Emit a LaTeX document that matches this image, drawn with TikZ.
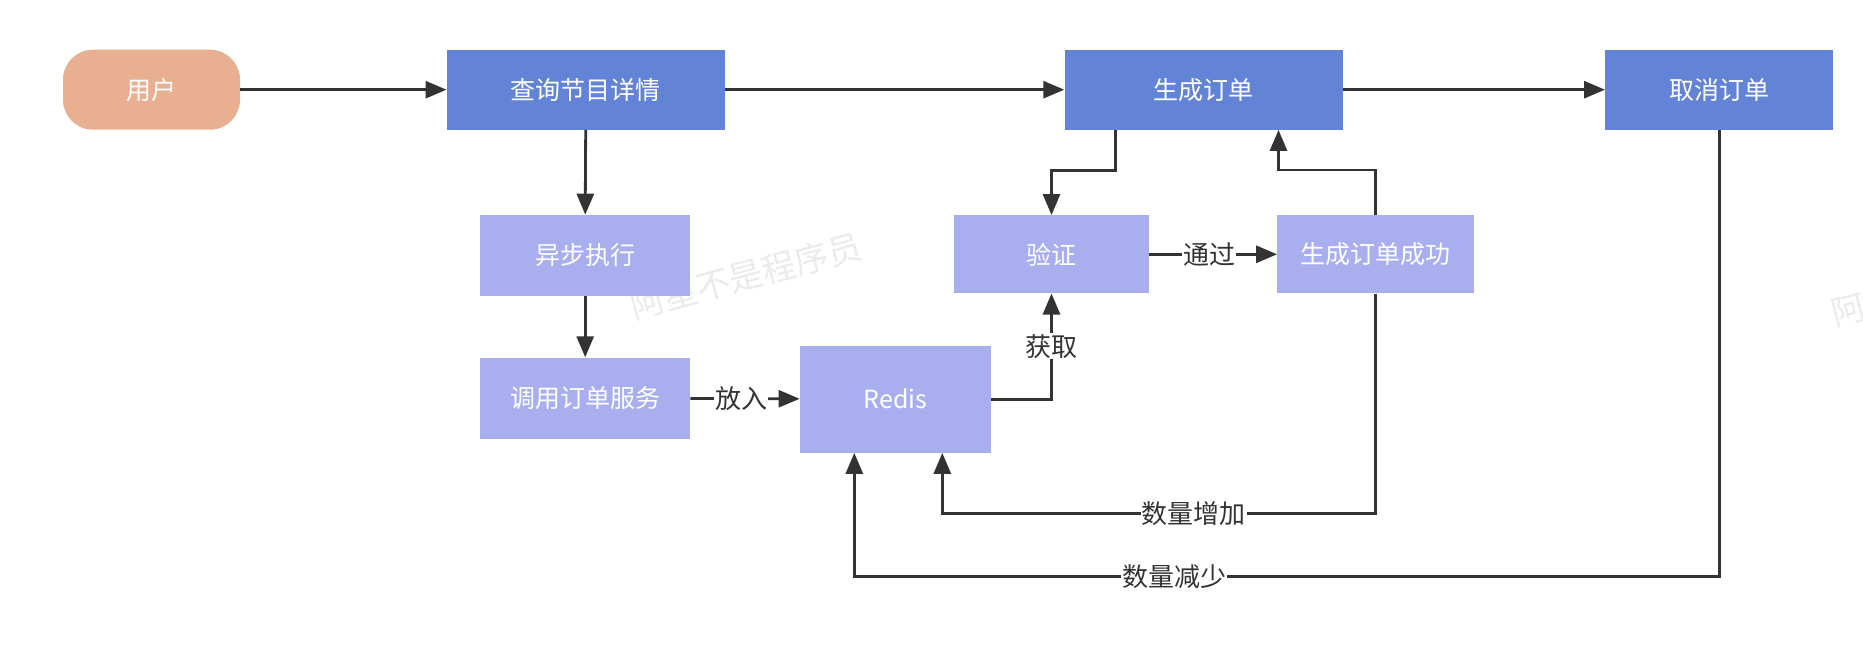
\documentclass[tikz,border=0pt]{standalone}
\usepackage{fontspec}
\setmainfont{Noto Sans CJK SC}
\usetikzlibrary{arrows.meta}
\definecolor{darkblue}{HTML}{6384D6}
\definecolor{lightblue}{HTML}{A9AEEE}
\definecolor{usercol}{HTML}{E9AF91}
\definecolor{linecol}{HTML}{333333}
\definecolor{wmark}{HTML}{EBEBEB}
\tikzset{
  base/.style={text=white, font=\fontsize{25}{30}\selectfont, inner sep=0pt, draw=none},
  dbox/.style={base, fill=darkblue},
  lbox/.style={base, fill=lightblue},
  arr/.style={draw=linecol, line width=2.8pt, -{Triangle[length=21pt,width=17pt]}},
  lbl/.style={fill=white, text=linecol, font=\fontsize{26}{30}\selectfont, inner sep=1pt},
  wm/.style={text=wmark, font=\fontsize{34}{38}\selectfont, rotate=15, inner sep=0pt}
}
\begin{document}
\begin{tikzpicture}[x=1pt,y=-1pt]
\clip (0,0) rectangle (1863,650);
\fill[white] (0,0) rectangle (1863,650);
% watermarks
\node[wm] (wm1) at (746,276) {阿星不是程序员};
\node[wm, anchor=west] (wm2) at (1832,314) {阿星不是程序员};
% nodes
\node[base, fill=usercol, rounded corners=30pt, minimum width=177pt, minimum height=80pt] (u) at (151.5,89.7) {用户};
\node[dbox, minimum width=278pt, minimum height=80pt] (q) at (585.7,89.7) {查询节目详情};
\node[dbox, minimum width=278pt, minimum height=80pt] (g) at (1203.5,89.7) {生成订单};
\node[dbox, minimum width=228pt, minimum height=80pt] (c) at (1719.2,89.7) {取消订单};
\node[lbox, minimum width=210pt, minimum height=81pt] (a) at (585.2,255.4) {异步执行};
\node[lbox, minimum width=210pt, minimum height=81pt] (o) at (585.2,398) {调用订单服务};
\node[lbox, minimum width=191pt, minimum height=107pt] (r) at (895.3,399.2) {Redis};
\node[lbox, minimum width=195pt, minimum height=78pt] (v) at (1051.5,254.3) {验证};
\node[lbox, minimum width=197pt, minimum height=78pt] (s) at (1375.8,254.3) {生成订单成功};
% edges
\draw[arr] (u) -- (q);
\draw[arr] (q) -- (g);
\draw[arr] (g) -- (c);
\draw[arr] (q.south) -- (a.north);
\draw[arr] (a) -- (o);
\draw[arr] (o) -- node[lbl, xshift=-4pt]{放入} (r);
\draw[arr] (v) -- node[lbl, xshift=-4pt]{通过} (s);
\draw[arr] (r.east) -| node[lbl, pos=0.75]{获取} (v.south);
\draw[arr] ([xshift=-88pt]g.south) -- ++(0,40.4) -| (v.north);
\draw[arr] (s.north) -- (s.north |- 0,169.9) -| ([xshift=75pt]g.south);
\draw[arr] (s.south) -- (s.south |- 0,513.3) -- node[lbl, pos=0.42]{数量增加} ([xshift=47pt]r.south |- 0,513.3) -- ([xshift=47pt]r.south);
\draw[arr] (c.south) -- (c.south |- 0,576.2) -- node[lbl, pos=0.63]{数量减少} ([xshift=-41pt]r.south |- 0,576.2) -- ([xshift=-41pt]r.south);
\end{tikzpicture}
\end{document}
